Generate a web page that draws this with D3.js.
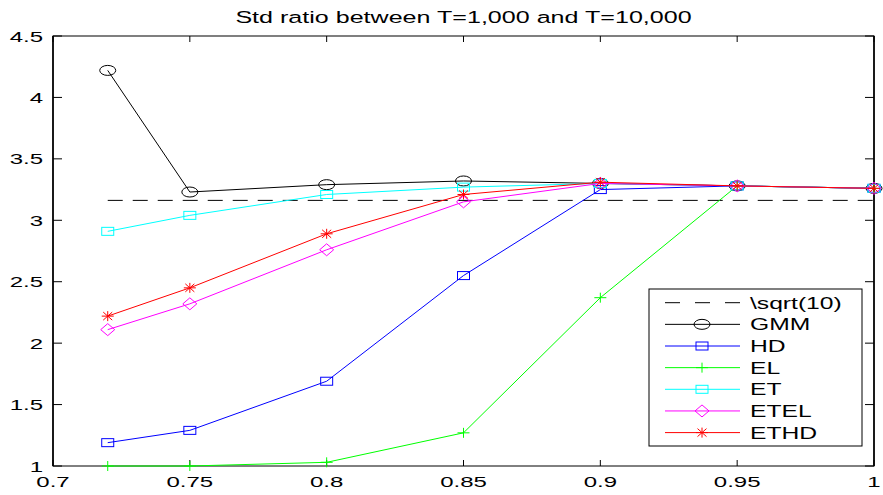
<!DOCTYPE html>
<html>
<head>
<meta charset="utf-8">
<script src="https://cdn.jsdelivr.net/npm/d3@7/dist/d3.min.js"></script>
<style>
  html, body { margin: 0; padding: 0; background: #fff; }
  text { font-family: "Liberation Sans", Arial, sans-serif; fill: #000; }
</style>
</head>
<body>
<script>
var w = 883,
    h = 495;

// data
var xValues = [0.72, 0.75, 0.8, 0.85, 0.9, 0.95, 1];
var gmm  = [4.22, 3.23, 3.29, 3.32, 3.30, 3.28, 3.26];
var hd   = [1.19, 1.29, 1.69, 2.55, 3.25, 3.28, 3.26];
var el   = [1.00, 1.00, 1.03, 1.27, 2.37, 3.28, 3.26];
var et   = [2.91, 3.04, 3.21, 3.27, 3.30, 3.28, 3.26];
var etel = [2.11, 2.32, 2.76, 3.15, 3.30, 3.28, 3.26];
var ethd = [2.22, 2.45, 2.89, 3.21, 3.31, 3.28, 3.26];
var sqrtLevel = 3.162;

var xTicks = [0.7, 0.75, 0.8, 0.85, 0.9, 0.95, 1];
var xTickLabels = ["0.7", "0.75", "0.8", "0.85", "0.9", "0.95", "1"];
var yTicks = [1, 1.5, 2, 2.5, 3, 3.5, 4, 4.5];
var yTickLabels = ["1", "1.5", "2", "2.5", "3", "3.5", "4", "4.5"];

var seriesNames = ["GMM", "HD", "EL", "ET", "ETEL", "ETHD"];
var seriesData = [gmm, hd, el, et, etel, ethd];
var seriesColors = ["#000000", "#0000ff", "#00ff00", "#00ffff", "#ff00ff", "#ff0000"];
var seriesMarkers = ["circle", "square", "plus", "square", "diamond", "star"];

var padLeft = 53, padRight = 874, padTop = 36, padBottom = 466;
var stretch = 1.6; // the picture is wide, text is stretched

var x = d3.scaleLinear().domain([0.7, 1]).range([padLeft, padRight]);
var y = d3.scaleLinear().domain([1, 4.5]).range([padBottom, padTop]);

var svg = d3.select("body")
          .append("svg")
          .attr("width", w)
          .attr("height", h);

function addText(g, tx, ty, str, size, sx, anchor) {
  return g.append("text")
    .attr("transform", "translate(" + tx + "," + ty + ") scale(" + sx + ",1)")
    .attr("text-anchor", anchor)
    .attr("font-size", size)
    .text(str);
}

function drawMarker(g, kind, cx, cy, color) {
  var m;
  if (kind == "circle") {
    m = g.append("ellipse").attr("cx", cx).attr("cy", cy).attr("rx", 8).attr("ry", 5);
  } else if (kind == "square") {
    m = g.append("rect").attr("x", cx - 6).attr("y", cy - 4).attr("width", 12).attr("height", 8);
  } else if (kind == "plus") {
    m = g.append("path").attr("d", "M" + (cx - 6) + "," + cy + "H" + (cx + 6) + "M" + cx + "," + (cy - 5) + "V" + (cy + 5));
  } else if (kind == "diamond") {
    m = g.append("path").attr("d", "M" + cx + "," + (cy - 6) + "L" + (cx + 7) + "," + cy + "L" + cx + "," + (cy + 6) + "L" + (cx - 7) + "," + cy + "Z");
  } else {
    m = g.append("path").attr("d",
      "M" + (cx - 6) + "," + cy + "H" + (cx + 6) +
      "M" + cx + "," + (cy - 5) + "V" + (cy + 5) +
      "M" + (cx - 4.5) + "," + (cy - 4) + "L" + (cx + 4.5) + "," + (cy + 4) +
      "M" + (cx - 4.5) + "," + (cy + 4) + "L" + (cx + 4.5) + "," + (cy - 4));
  }
  m.attr("fill", "none").attr("stroke", color).attr("stroke-width", 1);
}

// axes box
svg.append("rect")
  .attr("x", padLeft).attr("y", padTop)
  .attr("width", padRight - padLeft).attr("height", padBottom - padTop)
  .attr("fill", "none").attr("stroke", "#000").attr("stroke-width", 1);
svg.append("line").attr("x1", padLeft).attr("x2", padLeft).attr("y1", padTop).attr("y2", padBottom)
  .attr("stroke", "#000").attr("stroke-width", 1.6);
svg.append("line").attr("x1", padRight).attr("x2", padRight).attr("y1", padTop).attr("y2", padBottom)
  .attr("stroke", "#000").attr("stroke-width", 1.6);

// ticks, pointing inwards on all four sides
var ticks = svg.append("g").attr("stroke", "#000").attr("stroke-width", 1);
xTicks.forEach(function(t) {
  ticks.append("line").attr("x1", x(t)).attr("x2", x(t)).attr("y1", padBottom).attr("y2", padBottom - 6);
  ticks.append("line").attr("x1", x(t)).attr("x2", x(t)).attr("y1", padTop).attr("y2", padTop + 6);
});
yTicks.forEach(function(t) {
  ticks.append("line").attr("x1", padLeft).attr("x2", padLeft + 9).attr("y1", y(t)).attr("y2", y(t));
  ticks.append("line").attr("x1", padRight).attr("x2", padRight - 9).attr("y1", y(t)).attr("y2", y(t));
});

var labels = svg.append("g");
xTicks.forEach(function(t, i) {
  addText(labels, x(t), padBottom + 21, xTickLabels[i], 15, stretch, "middle");
});
yTicks.forEach(function(t, i) {
  addText(labels, padLeft - 10, y(t) + 5.5, yTickLabels[i], 15, stretch, "end");
});

// title
addText(svg, (padLeft + padRight) / 2, 23, "Std ratio between T=1,000 and T=10,000", 16.5, 1.52, "middle");

// sqrt(10) reference
svg.append("line")
  .attr("x1", x(xValues[0])).attr("x2", x(xValues[xValues.length - 1]))
  .attr("y1", y(sqrtLevel)).attr("y2", y(sqrtLevel))
  .attr("stroke", "#000").attr("stroke-width", 1)
  .attr("stroke-dasharray", "15,10");

var line = d3.line()
  .x(function(d, i) { return x(xValues[i]); })
  .y(function(d) { return y(d); });

seriesData.forEach(function(vals, s) {
  var g = svg.append("g");
  g.append("path")
    .attr("d", line(vals))
    .attr("fill", "none")
    .attr("stroke", seriesColors[s])
    .attr("stroke-width", 1);
  vals.forEach(function(v, i) {
    drawMarker(g, seriesMarkers[s], x(xValues[i]), y(v), seriesColors[s]);
  });
});

// legend
var lg = svg.append("g");
lg.append("rect")
  .attr("x", 649).attr("y", 289).attr("width", 213).attr("height", 157)
  .attr("fill", "#fff").attr("stroke", "#000").attr("stroke-width", 1);
var rowY = function(i) { return 302.7 + i * 21.65; };

lg.append("line")
  .attr("x1", 665).attr("x2", 740).attr("y1", rowY(0)).attr("y2", rowY(0))
  .attr("stroke", "#000").attr("stroke-width", 1).attr("stroke-dasharray", "15,15");
addText(lg, 750, rowY(0) + 6, "\\sqrt(10)", 16, 1.54, "start");

seriesNames.forEach(function(name, s) {
  var ry = rowY(s + 1);
  lg.append("line")
    .attr("x1", 665).attr("x2", 740).attr("y1", ry).attr("y2", ry)
    .attr("stroke", seriesColors[s]).attr("stroke-width", 1);
  drawMarker(lg, seriesMarkers[s], 702, ry, seriesColors[s]);
  addText(lg, 750, ry + 6, name, 16, 1.54, "start");
});
</script>
</body>
</html>
